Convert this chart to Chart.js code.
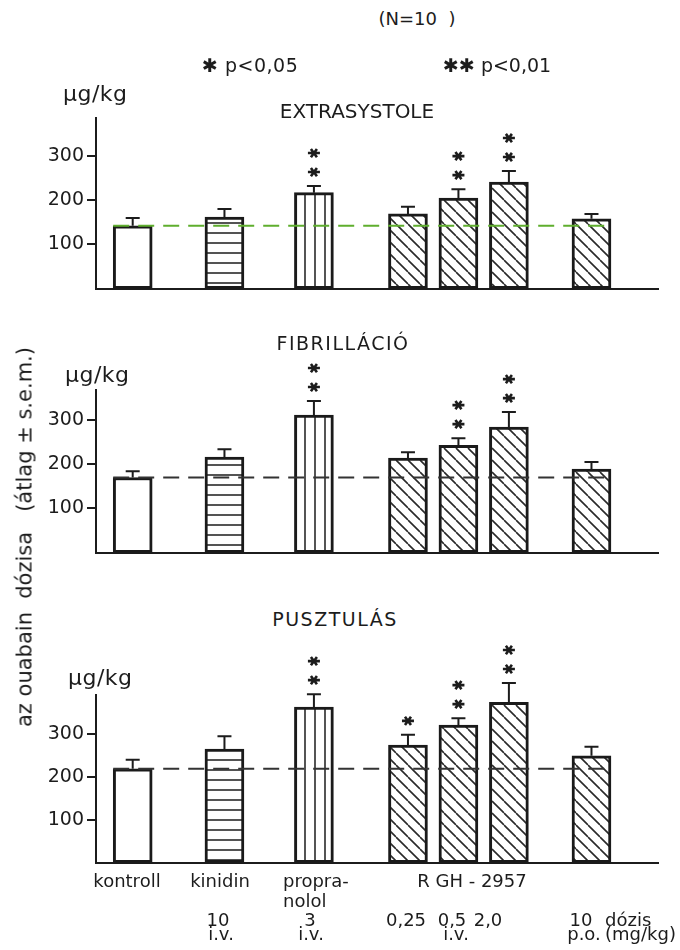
<!DOCTYPE html>
<html>
<head>
<meta charset="utf-8">
<script src="https://cdn.jsdelivr.net/npm/chart.js@4.4.1/dist/chart.umd.min.js"></script>
<style>
  html, body { margin: 0; padding: 0; background: #fff; }
  #page { position: relative; width: 680px; height: 950px; overflow: hidden;
          font-family: "DejaVu Sans", sans-serif; color: #1c1c1c; }
  canvas.panel { position: absolute; left: 0; }
  .t { position: absolute; white-space: pre; line-height: 1; }
</style>
</head>
<body>
<div id="page">
  <canvas id="c1" class="panel"></canvas>
  <canvas id="c2" class="panel"></canvas>
  <canvas id="c3" class="panel"></canvas>
</div>
<script>
// Treatment groups, in the order they sit along the x axis
const groups = ['kontroll', 'kinidin 10 i.v.', 'propranolol 3 i.v.',
                'RGH-2957 0,25 i.v.', 'RGH-2957 0,5 i.v.', 'RGH-2957 2,0 i.v.', 'RGH-2957 10 p.o.'];
// Position of each group on the x axis (RGH i.v. doses sit close together)
const groupPos = [1, 3, 4.95, 7, 8.1, 9.2, 11];
const groupFill = ['empty', 'horizontal', 'vertical', 'diagonal', 'diagonal', 'diagonal', 'diagonal'];

// Ouabain dose (µg/kg), mean and s.e.m., N = 10
const extraMean = [142, 162, 217, 169, 205, 241, 158];
const extraSem  = [18, 18, 15, 16, 20, 25, 11];
const extraSig  = [0, 0, 2, 0, 2, 2, 0];

const fibMean = [170, 216, 311, 214, 243, 284, 189];
const fibSem  = [14, 18, 32, 13, 16, 34, 16];
const fibSig  = [0, 0, 2, 0, 2, 2, 0];

const deathMean = [219, 265, 363, 274, 321, 374, 249];
const deathSem  = [21, 30, 30, 24, 16, 45, 21];
const deathSig  = [0, 0, 2, 1, 2, 2, 0];

const yTicks = [100, 200, 300];

const INK = '#1c1c1c';
const FONT = '"DejaVu Sans", sans-serif';

// ---------- hatch fills ----------
const helperCtx = document.createElement('canvas').getContext('2d');
function makeFill(kind) {
  if (kind === 'empty') return '#fff';
  const s = kind === 'diagonal' ? 12 : 10;
  const c = document.createElement('canvas');
  c.width = s; c.height = s;
  const g = c.getContext('2d');
  g.fillStyle = '#fff'; g.fillRect(0, 0, s, s);
  g.strokeStyle = '#2a2a2a'; g.lineWidth = 1.6;
  g.beginPath();
  if (kind === 'horizontal') { g.moveTo(0, s / 2); g.lineTo(s, s / 2); }
  else if (kind === 'vertical') { g.moveTo(s / 2, 0); g.lineTo(s / 2, s); }
  else { for (const o of [-s, 0, s]) { g.moveTo(o, 0); g.lineTo(o + s, s); } }
  g.stroke();
  return helperCtx.createPattern(c, 'repeat');
}
const fills = groupFill.map(makeFill);

// ---------- error bars, control reference line, significance stars ----------
function drawStar(ctx, x, y) {
  const r = 6;
  ctx.beginPath();
  for (const a of [0, Math.PI / 3, 2 * Math.PI / 3]) {
    ctx.moveTo(x - r * Math.cos(a), y - r * Math.sin(a) * 0.8);
    ctx.lineTo(x + r * Math.cos(a), y + r * Math.sin(a) * 0.8);
  }
  ctx.stroke();
}

const overlay = {
  id: 'overlay',
  afterDatasetsDraw(chart, args, opts) {
    const { ctx } = chart;
    const ys = chart.scales.y;
    const bars = chart.getDatasetMeta(0).data;
    const mean = opts.mean, sem = opts.sem, sig = opts.sig;
    ctx.save();
    // dashed line at the control level
    const first = bars[0], last = bars[bars.length - 1];
    const yc = ys.getPixelForValue(mean[0]);
    ctx.strokeStyle = opts.refColor;
    ctx.lineWidth = 2;
    ctx.setLineDash([16, 9]);
    ctx.beginPath();
    ctx.moveTo(first.x - first.width / 2, yc);
    ctx.lineTo(last.x + last.width / 2, yc);
    ctx.stroke();
    ctx.setLineDash([]);
    // upper s.e.m. whiskers and stars
    ctx.strokeStyle = INK;
    bars.forEach((b, i) => {
      const y0 = ys.getPixelForValue(mean[i]);
      const y1 = ys.getPixelForValue(mean[i] + sem[i]);
      ctx.lineWidth = 2;
      ctx.beginPath();
      ctx.moveTo(b.x, y0); ctx.lineTo(b.x, y1);
      ctx.moveTo(b.x - 7, y1); ctx.lineTo(b.x + 7, y1);
      ctx.stroke();
      ctx.lineWidth = 2.6;
      for (let k = 0; k < sig[i]; k++) drawStar(ctx, b.x, y1 - 14 - k * 19);
    });
    ctx.restore();
  }
};

function makePanel(id, top, height, yMax, mean, sem, sig, refColor) {
  const cv = document.getElementById(id);
  cv.width = 680; cv.height = height;
  cv.style.top = top + 'px';
  cv.style.width = '680px'; cv.style.height = height + 'px';
  new Chart(cv, {
    type: 'bar',
    data: {
      labels: groups,
      datasets: [{
        data: groupPos.map((x, i) => ({ x: x, y: mean[i] })),
        backgroundColor: fills,
        borderColor: '#1a1a1a',
        borderWidth: 3,
        borderSkipped: false,
        barThickness: 39
      }]
    },
    options: {
      responsive: false,
      animation: false,
      devicePixelRatio: 1,
      layout: { padding: { top: 50, bottom: 6, left: 0, right: 22 } },
      plugins: {
        legend: { display: false },
        tooltip: { enabled: false },
        overlay: { mean, sem, sig, refColor }
      },
      scales: {
        x: {
          type: 'linear', min: 0.2, max: 12.45, offset: false,
          ticks: { display: false },
          grid: { display: false, offset: false },
          border: { display: true, color: INK, width: 2 },
          afterFit(s) { s.height = 0; }
        },
        y: {
          min: 0, max: yMax,
          afterBuildTicks(s) { s.ticks = yTicks.map(v => ({ value: v })); },
          afterFit(s) { s.width = 96; },
          ticks: { color: INK, font: { family: FONT, size: 19 }, padding: 3 },
          grid: { drawOnChartArea: false, drawTicks: true, tickLength: 9, color: INK, lineWidth: 2 },
          border: { display: true, color: INK, width: 2 }
        }
      }
    },
    plugins: [overlay]
  });
}

// canvases are 8px taller than the plot to absorb the y-axis label padding at the bottom
makePanel('c1', 68, 235, 386, extraMean, extraSem, extraSig, '#5fae2e');
makePanel('c2', 340, 227, 368, fibMean, fibSem, fibSig, '#333');
makePanel('c3', 645, 232, 391, deathMean, deathSem, deathSig, '#333');

// ---------- text ----------
const page = document.getElementById('page');
function label(text, x, base, size, align, spacing) {
  const d = document.createElement('div');
  d.className = 't';
  d.textContent = text;
  d.style.fontSize = size + 'px';
  d.style.top = (base - 0.846 * size) + 'px';
  d.style.left = x + 'px';
  if (spacing) d.style.letterSpacing = spacing + 'px';
  if (align === 'center') d.style.transform = 'translateX(-50%)';
  page.appendChild(d);
  return d;
}

label('(N=10  )', 417, 25, 18, 'center');
label('\u2731 p<0,05', 202, 72, 19, 'left', 0.5);
label('\u2731\u2731 p<0,01', 443, 72, 19, 'left');

label('\u00b5g/kg', 63, 102, 22, 'left', 0.5);
label('EXTRASYSTOLE', 357, 118, 20, 'center');
label('\u00b5g/kg', 65, 383, 22, 'left', 0.5);
label('FIBRILLÁCIÓ', 343, 350, 19, 'center', 1.5);
label('\u00b5g/kg', 68, 686, 22, 'left', 0.5);
label('PUSZTULÁS', 335, 626, 19, 'center', 1.5);

// axis title, read bottom to top
const yt = label('az ouabain  dózisa   (átlag ± s.e.m.)', 25, 537, 21, 'left');
yt.style.top = '537px';
yt.style.left = '25px';
yt.style.transformOrigin = '0 0';
yt.style.transform = 'rotate(-90deg) translate(-50%, -50%)';

// group names and doses under the bottom panel
label('kontroll', 127, 887, 18, 'center');
label('kinidin', 220, 887, 18, 'center');
label('propra-', 283, 887, 18, 'left');
label('nolol', 283, 907, 18, 'left');
label('R GH - 2957', 472, 887, 18, 'center');

label('10', 218, 926, 18, 'center');
label('3', 310, 926, 18, 'center');
label('0,25', 406, 926, 18, 'center');
label('0,5', 452, 926, 18, 'center');
label('2,0', 488, 926, 18, 'center');
label('10', 581, 926, 18, 'center');
label('dózis', 605, 926, 18, 'left');

label('i.v.', 221, 940, 18, 'center');
label('i.v.', 311, 940, 18, 'center');
label('i.v.', 456, 940, 18, 'center');
label('p.o.', 584, 940, 18, 'center');
label('(mg/kg)', 605, 940, 18, 'left');
</script>
</body>
</html>
